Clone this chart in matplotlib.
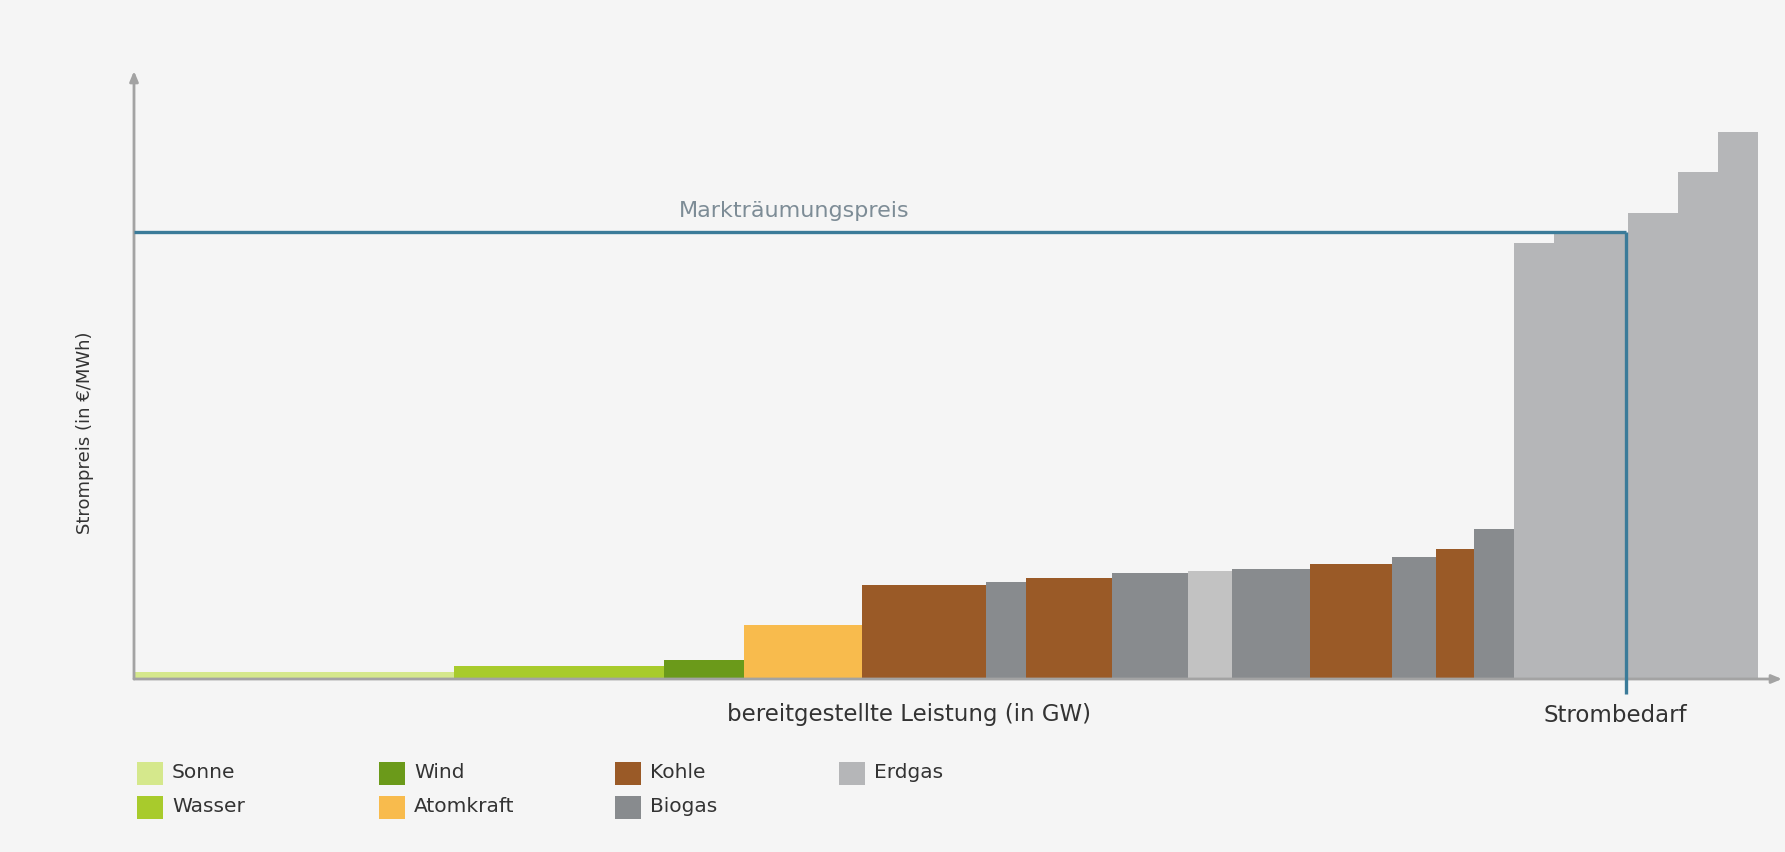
import matplotlib
matplotlib.use("Agg")
import matplotlib.pyplot as plt
from matplotlib.patches import Rectangle
import numpy as np

# ---- data ----
sources = ["Sonne", "Wasser", "Wind", "Atomkraft", "Kohle", "Biogas", "Kohle", "Biogas",
           "Erdgas", "Biogas", "Kohle", "Biogas", "Kohle", "Biogas",
           "Erdgas", "Erdgas", "Erdgas", "Erdgas", "Erdgas"]
capacity_gw = [16.0, 10.5, 4.0, 5.9, 6.2, 2.0, 4.3, 3.8,
               2.2, 3.9, 4.1, 2.2, 1.9, 2.0,
               2.0, 3.7, 2.5, 2.0, 2.0]
price_eur = [1.8, 3.3, 4.8, 13.5, 23.5, 24.3, 25.3, 26.5,
             27.0, 27.5, 28.8, 30.5, 32.5, 37.5,
             109.0, 111.5, 116.5, 126.8, 136.8]
market_price = 111.8
demand_gw = 74.6
legend_cols = [["Sonne", "Wasser"], ["Wind", "Atomkraft"], ["Kohle", "Biogas"], ["Erdgas"]]

colors = {
    "Sonne": "#d5e88c",
    "Wasser": "#a8cb2c",
    "Wind": "#6b9a1a",
    "Atomkraft": "#f8bb4d",
    "Kohle": "#9a5a27",
    "Biogas": "#888b8e",
    "Erdgas": "#b5b6b8",
}
erdgas_light = "#c2c2c2"

W, H = 1785, 852
fig = plt.figure(figsize=(W / 100, H / 100), dpi=100, facecolor="#f5f5f5")
x0, y0, x1, y1 = 134, 679, 1782, 71
ax = fig.add_axes([x0 / W, 1 - y0 / H, (x1 - x0) / W, (y0 - y1) / H])
ax.set_xlim(0, (x1 - x0) / 20)
ax.set_ylim(0, (y0 - y1) / 4)
ax.patch.set_alpha(0)
for s in ax.spines.values():
    s.set_visible(False)
ax.set_xticks([])
ax.set_yticks([])

lefts = np.concatenate([[0], np.cumsum(capacity_gw)[:-1]])
bar_colors = []
for i, s in enumerate(sources):
    c = colors[s]
    if s == "Erdgas" and i < 10:
        c = erdgas_light
    bar_colors.append(c)
ax.bar(lefts, price_eur, width=capacity_gw, align="edge", color=bar_colors,
       edgecolor="none", linewidth=0, zorder=2)

# axes with arrows
axis_col = "#a3a3a3"
ax.annotate("", xy=(1.0, 0), xytext=(0, 0), xycoords="axes fraction",
            arrowprops=dict(arrowstyle="-|>,head_length=0.6,head_width=0.25",
                            color=axis_col, lw=2, shrinkA=0, shrinkB=0),
            zorder=3, annotation_clip=False)
ax.annotate("", xy=(0, 1.0), xytext=(0, 0), xycoords="axes fraction",
            arrowprops=dict(arrowstyle="-|>,head_length=0.6,head_width=0.25",
                            color=axis_col, lw=2, shrinkA=0, shrinkB=0),
            zorder=3, annotation_clip=False)

# market clearing price & demand
line_col = "#3b7b99"
ax.plot([0, demand_gw], [market_price, market_price], color=line_col, lw=2.4,
        zorder=4, solid_capstyle="butt")
ax.plot([demand_gw, demand_gw], [-3.8, market_price], color=line_col, lw=2.4,
        zorder=4, solid_capstyle="butt", clip_on=False)

ax.annotate("Markträumungspreis", xy=(33.0, market_price), xytext=(0, 11),
            textcoords="offset pixels", ha="center", va="bottom",
            fontsize=16, color="#7d8c96", family="DejaVu Sans")

txt_col = "#333333"
ax.text((909 - x0) / (x1 - x0), -36 / (y0 - y1), "bereitgestellte Leistung (in GW)",
        transform=ax.transAxes, ha="center", va="center", fontsize=16.5, color=txt_col)
ax.annotate("Strombedarf", xy=(demand_gw, 0), xytext=(-11, -36),
            textcoords="offset pixels", ha="center", va="center",
            fontsize=16.5, color=txt_col, annotation_clip=False)
ax.text(-49 / (x1 - x0), (679 - 433) / (y0 - y1), "Strompreis (in €/MWh)",
        transform=ax.transAxes, ha="center", va="center", rotation=90,
        fontsize=13, color=txt_col)

# legend (manual)
col_x = [137, 379, 615, 839]
row_y = [773, 807]
sw, sh = 26, 23
for cx, names in zip(col_x, legend_cols):
    for ry, name in zip(row_y, names):
        fig.patches.append(Rectangle((cx / W, 1 - (ry + sh / 2) / H), sw / W, sh / H,
                                     transform=fig.transFigure, facecolor=colors[name],
                                     edgecolor="none"))
        fig.text((cx + sw + 9) / W, 1 - ry / H, name, ha="left", va="center",
                 fontsize=14.5, color=txt_col)

fig.savefig("out.png", dpi=100, facecolor=fig.get_facecolor())
